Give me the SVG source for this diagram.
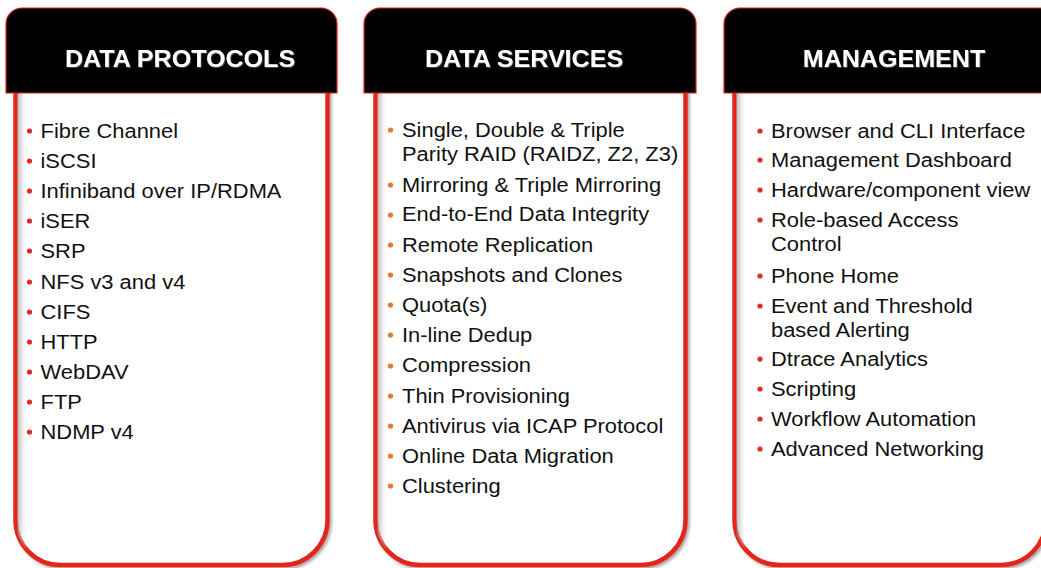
<svg xmlns="http://www.w3.org/2000/svg" width="1041" height="568" viewBox="0 0 1041 568">
  <style>
    .head { fill: #000000; stroke: #d9261c; stroke-width: 1.2; }
    .body { fill: #ffffff; stroke: #e3281e; stroke-width: 4.5; }
    .title { font-family: "Liberation Sans", Arial, sans-serif; font-weight: bold; font-size: 24px; fill: #ffffff; text-anchor: middle; }
    .item { font-family: "Liberation Sans", Arial, sans-serif; font-size: 20px; fill: #111111; }
    .dot-red { fill: #e02a26; }
    .dot-orange { fill: #e57a2c; }
  </style>
  <defs>
    <filter id="shadow" x="-10%" y="-10%" width="120%" height="120%">
      <feDropShadow dx="2" dy="2" stdDeviation="1.6" flood-color="#000000" flood-opacity="0.35"/>
    </filter>
    <filter id="titleShadow" x="-5%" y="-20%" width="110%" height="140%">
      <feDropShadow dx="1" dy="1" stdDeviation="0.6" flood-color="#555555" flood-opacity="0.8"/>
    </filter>
    <linearGradient id="innerShade" x1="0" y1="0" x2="1" y2="0">
      <stop offset="0" stop-color="#9a9a9a" stop-opacity="0.7"/>
      <stop offset="1" stop-color="#ffffff" stop-opacity="0"/>
    </linearGradient>
    <clipPath id="clip1"><path d="M15.5 80 V520 A45 45 0 0 0 60.5 565 H282.5 A45 45 0 0 0 327.5 520 V80 Z"/></clipPath>
    <clipPath id="clip2"><path d="M375.5 80 V520 A45 45 0 0 0 420.5 565 H640.5 A45 45 0 0 0 685.5 520 V80 Z"/></clipPath>
    <clipPath id="clip3"><path d="M734.5 80 V520 A45 45 0 0 0 779.5 565 H1001 A45 45 0 0 0 1046 520 V80 Z"/></clipPath>
  </defs>

  <!-- Column 1: data protocols -->
  <g id="data-protocols">
    <path class="body" filter="url(#shadow)" d="M15.5 80 V520 A45 45 0 0 0 60.5 565 H282.5 A45 45 0 0 0 327.5 520 V80"/>
    <rect x="17.5" y="80" width="10" height="486" fill="url(#innerShade)" clip-path="url(#clip1)"/>
    <path class="head" d="M6 93 V24 A16 16 0 0 1 22 8 H321 A16 16 0 0 1 337 24 V93 Z"/>
    <g transform="translate(180 0) scale(1.045 1)">
      <text class="title" x="0" y="67" filter="url(#titleShadow)">DATA PROTOCOLS</text>
    </g>
    <g class="dot-red">
      <circle cx="29.5" cy="131" r="2.6"/><circle cx="29.5" cy="161" r="2.6"/><circle cx="29.5" cy="191" r="2.6"/>
      <circle cx="29.5" cy="221" r="2.6"/><circle cx="29.5" cy="251" r="2.6"/><circle cx="29.5" cy="282" r="2.6"/>
      <circle cx="29.5" cy="312" r="2.6"/><circle cx="29.5" cy="342" r="2.6"/><circle cx="29.5" cy="372" r="2.6"/>
      <circle cx="29.5" cy="402" r="2.6"/><circle cx="29.5" cy="432" r="2.6"/>
    </g>
    <g transform="translate(40.5 0) scale(1.095 1)">
      <text class="item" x="0" y="138">Fibre Channel</text>
      <text class="item" x="0" y="168">iSCSI</text>
      <text class="item" x="0" y="198">Infiniband over IP/RDMA</text>
      <text class="item" x="0" y="228">iSER</text>
      <text class="item" x="0" y="258">SRP</text>
      <text class="item" x="0" y="289">NFS v3 and v4</text>
      <text class="item" x="0" y="319">CIFS</text>
      <text class="item" x="0" y="349">HTTP</text>
      <text class="item" x="0" y="379">WebDAV</text>
      <text class="item" x="0" y="409">FTP</text>
      <text class="item" x="0" y="439">NDMP v4</text>
    </g>
  </g>

  <!-- Column 2: data services -->
  <g id="data-services">
    <path class="body" filter="url(#shadow)" d="M375.5 80 V520 A45 45 0 0 0 420.5 565 H640.5 A45 45 0 0 0 685.5 520 V80"/>
    <rect x="377.5" y="80" width="10" height="486" fill="url(#innerShade)" clip-path="url(#clip2)"/>
    <path class="head" d="M364 93 V24 A16 16 0 0 1 380 8 H680 A16 16 0 0 1 696 24 V93 Z"/>
    <g transform="translate(524 0) scale(1.045 1)">
      <text class="title" x="0" y="67" filter="url(#titleShadow)">DATA SERVICES</text>
    </g>
    <g class="dot-orange">
      <circle cx="390.5" cy="130" r="2.6"/><circle cx="390.5" cy="185" r="2.6"/><circle cx="390.5" cy="215" r="2.6"/>
      <circle cx="390.5" cy="245" r="2.6"/><circle cx="390.5" cy="275" r="2.6"/><circle cx="390.5" cy="305" r="2.6"/>
      <circle cx="390.5" cy="335" r="2.6"/><circle cx="390.5" cy="366" r="2.6"/><circle cx="390.5" cy="396" r="2.6"/>
      <circle cx="390.5" cy="426" r="2.6"/><circle cx="390.5" cy="456" r="2.6"/><circle cx="390.5" cy="486" r="2.6"/>
    </g>
    <g transform="translate(402 0) scale(1.095 1)">
      <text class="item" x="0" y="137">Single, Double &amp; Triple</text>
      <text class="item" x="0" y="161.5">Parity RAID (RAIDZ, Z2, Z3)</text>
      <text class="item" x="0" y="192">Mirroring &amp; Triple Mirroring</text>
      <text class="item" x="0" y="221.5">End-to-End Data Integrity</text>
      <text class="item" x="0" y="252">Remote Replication</text>
      <text class="item" x="0" y="282">Snapshots and Clones</text>
      <text class="item" x="0" y="312">Quota(s)</text>
      <text class="item" x="0" y="342">In-line Dedup</text>
      <text class="item" x="0" y="372.5">Compression</text>
      <text class="item" x="0" y="403">Thin Provisioning</text>
      <text class="item" x="0" y="433">Antivirus via ICAP Protocol</text>
      <text class="item" x="0" y="463">Online Data Migration</text>
      <text class="item" x="0" y="493">Clustering</text>
    </g>
  </g>

  <!-- Column 3: management -->
  <g id="management">
    <path class="body" filter="url(#shadow)" d="M734.5 80 V520 A45 45 0 0 0 779.5 565 H1001 A45 45 0 0 0 1046 520 V80"/>
    <rect x="736.5" y="80" width="10" height="486" fill="url(#innerShade)" clip-path="url(#clip3)"/>
    <path class="head" d="M724 93 V24 A16 16 0 0 1 740 8 H1040 A16 16 0 0 1 1056 24 V93 Z"/>
    <g transform="translate(894 0) scale(1.045 1)">
      <text class="title" x="0" y="67" filter="url(#titleShadow)">MANAGEMENT</text>
    </g>
    <g class="dot-red">
      <circle cx="760" cy="131" r="2.6"/><circle cx="760" cy="160" r="2.6"/><circle cx="760" cy="190" r="2.6"/>
      <circle cx="760" cy="220" r="2.6"/><circle cx="760" cy="276" r="2.6"/><circle cx="760" cy="306" r="2.6"/>
      <circle cx="760" cy="359" r="2.6"/><circle cx="760" cy="389" r="2.6"/><circle cx="760" cy="419" r="2.6"/>
      <circle cx="760" cy="449" r="2.6"/>
    </g>
    <g transform="translate(771 0) scale(1.095 1)">
      <text class="item" x="0" y="138">Browser and CLI Interface</text>
      <text class="item" x="0" y="167">Management Dashboard</text>
      <text class="item" x="0" y="197">Hardware/component view</text>
      <text class="item" x="0" y="227">Role-based Access</text>
      <text class="item" x="0" y="251.5">Control</text>
      <text class="item" x="0" y="283">Phone Home</text>
      <text class="item" x="0" y="313">Event and Threshold</text>
      <text class="item" x="0" y="337">based Alerting</text>
      <text class="item" x="0" y="366">Dtrace Analytics</text>
      <text class="item" x="0" y="396">Scripting</text>
      <text class="item" x="0" y="426">Workflow Automation</text>
      <text class="item" x="0" y="456">Advanced Networking</text>
    </g>
  </g>
</svg>
